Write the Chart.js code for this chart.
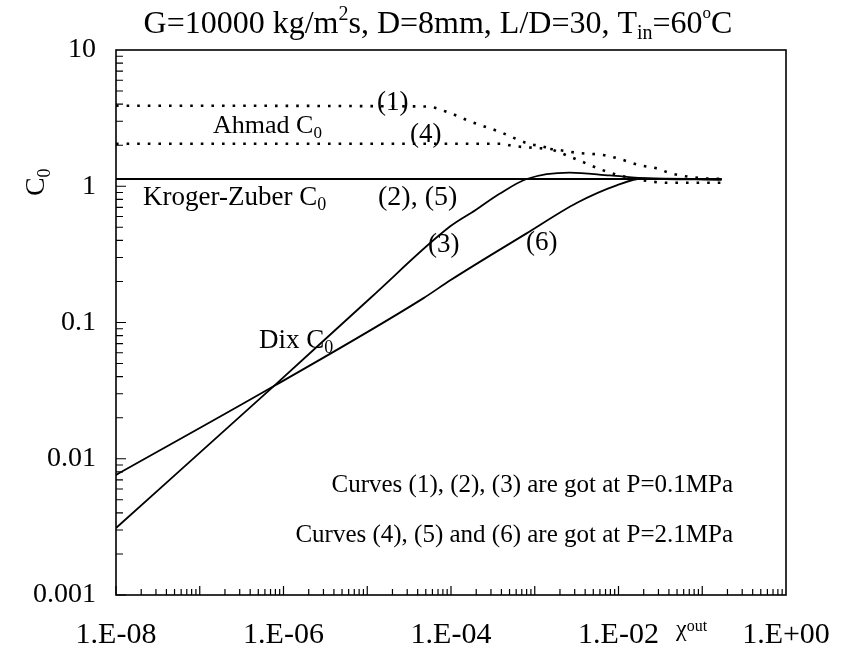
<!DOCTYPE html>
<html><head><meta charset="utf-8">
<script src="https://cdn.jsdelivr.net/npm/chart.js@4.4.0/dist/chart.umd.min.js"></script>
<style>html,body{margin:0;padding:0;background:#fff;overflow:hidden}</style>
</head><body>
<canvas id="c" width="841" height="662"></canvas>
<script>
// ---- tick labels ----
const xTickValues = [1e-8, 1e-6, 1e-4, 1e-2, 1];
const xTickLabels = ['1.E-08', '1.E-06', '1.E-04', '1.E-02', '1.E+00'];
const yTickValues = [0.001, 0.01, 0.1, 1, 10];
const yTickLabels = ['0.001', '0.01', '0.1', '1', '10'];

// ---- curve (1): Ahmad C0, P=0.1MPa ----
const ahmad1X = [1e-8, 5e-5, 9.8e-5, 1.7e-4, 3.8e-4, 8.7e-4, 1.2e-3, 3.2e-3, 6.3e-3, 1.4e-2, 4e-2, 0.17];
const ahmad1Y = [3.9, 3.85, 3.44, 2.99, 2.51, 2.04, 1.97, 1.57, 1.32, 1.15, 1.06, 1.06];
// ---- curve (4): Ahmad C0, P=2.1MPa ----
const ahmad4X = [1e-8, 4e-4, 5.4e-4, 1.74e-3, 3.2e-3, 6.8e-3, 9.5e-3, 1.86e-2, 2.9e-2, 4.1e-2, 9.1e-2, 0.17];
const ahmad4Y = [2.05, 2.05, 1.98, 1.86, 1.76, 1.69, 1.61, 1.42, 1.35, 1.25, 1.15, 1.13];
// ---- curves (2),(5): Kroger-Zuber C0 ----
const kz2X = [1e-8, 0.17];
const kz2Y = [1.13, 1.13];
const kz5X = [1e-8, 0.17];
const kz5Y = [1.13, 1.13];
// ---- curve (3): Dix C0, P=0.1MPa ----
const dix3X = [1e-8, 7.6e-7, 1.1e-5, 9.8e-5, 1.95e-4, 3.8e-4, 8e-4, 2.6e-3, 7.9e-3, 2.3e-2, 0.17];
const dix3Y = [0.0031, 0.034, 0.152, 0.508, 0.667, 0.88, 1.13, 1.26, 1.2, 1.14, 1.12];
// ---- curve (6): Dix C0, P=2.1MPa ----
const dix6X = [1e-8, 7.6e-7, 4.7e-5, 9.8e-5, 7.9e-4, 3.2e-3, 9.5e-3, 1.95e-2, 0.17];
const dix6Y = [0.0076, 0.034, 0.151, 0.204, 0.449, 0.757, 1.016, 1.14, 1.12];

const FONT = '"Liberation Serif", "Times New Roman", serif';
const mk = (xs, ys) => xs.map((x, i) => ({x: x, y: ys[i]}));

function drawRich(ctx, x, y, segs, align) {
  let w = 0;
  segs.forEach(g => { ctx.font = g.s + 'px ' + FONT; g.w = ctx.measureText(g.t).width; w += g.w; });
  let cx = align === 'center' ? x - w / 2 : (align === 'right' ? x - w : x);
  ctx.textAlign = 'left'; ctx.textBaseline = 'alphabetic'; ctx.fillStyle = '#000';
  segs.forEach(g => { ctx.font = g.s + 'px ' + FONT; ctx.fillText(g.t, cx, y + (g.dy || 0)); cx += g.w; });
}
const C0 = (s) => [{t: 'C', s: s}, {t: '0', s: Math.round(s * 0.65), dy: Math.round(s * 0.2)}];

const annotations = [
  {x: 377, y: 110, segs: [{t: '(1)', s: 27}]},
  {x: 213, y: 133, segs: [{t: 'Ahmad ', s: 26}].concat(C0(26))},
  {x: 410, y: 142, segs: [{t: '(4)', s: 27}]},
  {x: 143, y: 205, segs: [{t: 'Kroger-Zuber ', s: 27}].concat(C0(27))},
  {x: 378, y: 205, segs: [{t: '(2), (5)', s: 28}]},
  {x: 428, y: 252, segs: [{t: '(3)', s: 27}]},
  {x: 526, y: 250, segs: [{t: '(6)', s: 27}]},
  {x: 259, y: 348, segs: [{t: 'Dix ', s: 27}].concat(C0(27))},
  {x: 733, y: 492, align: 'right', segs: [{t: 'Curves (1), (2), (3) are got at P=0.1MPa', s: 25}]},
  {x: 733, y: 542, align: 'right', segs: [{t: 'Curves (4), (5) and (6) are got at P=2.1MPa', s: 25}]}
];

const decor = {
  id: 'decor',
  afterDraw(chart) {
    const ctx = chart.ctx, a = chart.chartArea, xs = chart.scales.x, ys = chart.scales.y;
    ctx.save();
    ctx.strokeStyle = '#000';
    ctx.lineWidth = 1.6;
    ctx.strokeRect(a.left, a.top, a.right - a.left, a.bottom - a.top);
    ctx.lineWidth = 1.2;
    ctx.beginPath();
    for (let d = -3; d <= 0; d++) {
      for (let m = 1; m <= 9; m++) {
        const v = m * Math.pow(10, d);
        const p = ys.getPixelForValue(v);
        const len = m === 1 ? 10 : 7;
        ctx.moveTo(a.left, p); ctx.lineTo(a.left + len, p);
      }
    }
    for (let d = -8; d <= -1; d++) {
      for (let m = 1; m <= 9; m++) {
        const v = m * Math.pow(10, d);
        const p = xs.getPixelForValue(v);
        const len = m === 1 ? 9 : 6;
        ctx.moveTo(p, a.bottom); ctx.lineTo(p, a.bottom - len);
      }
    }
    ctx.stroke();
    // title
    drawRich(ctx, 438, 33, [
      {t: 'G=10000 kg/m', s: 32}, {t: '2', s: 20, dy: -13},
      {t: 's, D=8mm, L/D=30, T', s: 32}, {t: 'in', s: 20, dy: 6},
      {t: '=60', s: 32}, {t: 'o', s: 17, dy: -15}, {t: 'C', s: 32}
    ], 'center');
    // y-axis title
    ctx.save();
    ctx.translate(44, ys.getPixelForValue(1) - 4);
    ctx.rotate(-Math.PI / 2);
    drawRich(ctx, 0, 0, C0(28), 'center');
    ctx.restore();
    // x-axis title
    drawRich(ctx, 676, 636, [{t: 'χ', s: 24}, {t: 'out', s: 16, dy: -5}], 'left');
    annotations.forEach(n => drawRich(ctx, n.x, n.y, n.segs, n.align || 'left'));
    ctx.restore();
  }
};

const solid = {borderColor: '#000', borderWidth: 1.8, pointRadius: 0, fill: false, cubicInterpolationMode: 'monotone'};
const dotted = {borderColor: '#000', borderWidth: 2.6, borderDash: [2.6, 8], pointRadius: 0, fill: false, cubicInterpolationMode: 'monotone'};

new Chart(document.getElementById('c'), {
  type: 'line',
  data: {
    datasets: [
      Object.assign({label: '(1) Ahmad C0', data: mk(ahmad1X, ahmad1Y)}, dotted),
      Object.assign({label: '(4) Ahmad C0', data: mk(ahmad4X, ahmad4Y)}, dotted),
      Object.assign({label: '(2) Kroger-Zuber C0', data: mk(kz2X, kz2Y)}, solid),
      Object.assign({label: '(5) Kroger-Zuber C0', data: mk(kz5X, kz5Y)}, solid),
      Object.assign({label: '(3) Dix C0', data: mk(dix3X, dix3Y)}, solid),
      Object.assign({label: '(6) Dix C0', data: mk(dix6X, dix6Y)}, solid)
    ]
  },
  options: {
    responsive: false, animation: false, devicePixelRatio: 1,
    layout: {padding: {top: 50, right: 55, left: 0, bottom: 0}},
    plugins: {legend: {display: false}, title: {display: false}, tooltip: {enabled: false}},
    scales: {
      x: {
        type: 'logarithmic', min: 1e-8, max: 1,
        afterBuildTicks: s => { s.ticks = xTickValues.map(v => ({value: v})); },
        afterFit: s => { s.height = 67; s.paddingLeft = 0; s.paddingRight = 0; },
        grid: {display: false, drawTicks: false}, border: {display: false},
        ticks: {
          autoSkip: false, maxRotation: 0, padding: 22, color: '#000',
          font: {family: FONT, size: 30},
          callback: (v) => { const i = xTickValues.findIndex(t => Math.abs(Math.log10(t) - Math.log10(v)) < 1e-6); return i >= 0 ? xTickLabels[i] : ''; }
        }
      },
      y: {
        type: 'logarithmic', min: 0.001, max: 10,
        afterBuildTicks: s => { s.ticks = yTickValues.map(v => ({value: v})); },
        afterFit: s => { s.width = 116; s.paddingTop = 0; s.paddingBottom = 0; },
        grid: {display: false, drawTicks: false}, border: {display: false},
        ticks: {
          autoSkip: false, padding: 20, color: '#000',
          font: {family: FONT, size: 28},
          callback: (v) => { const i = yTickValues.findIndex(t => Math.abs(Math.log10(t) - Math.log10(v)) < 1e-6); return i >= 0 ? yTickLabels[i] : ''; }
        }
      }
    }
  },
  plugins: [decor]
});
</script>
</body></html>
